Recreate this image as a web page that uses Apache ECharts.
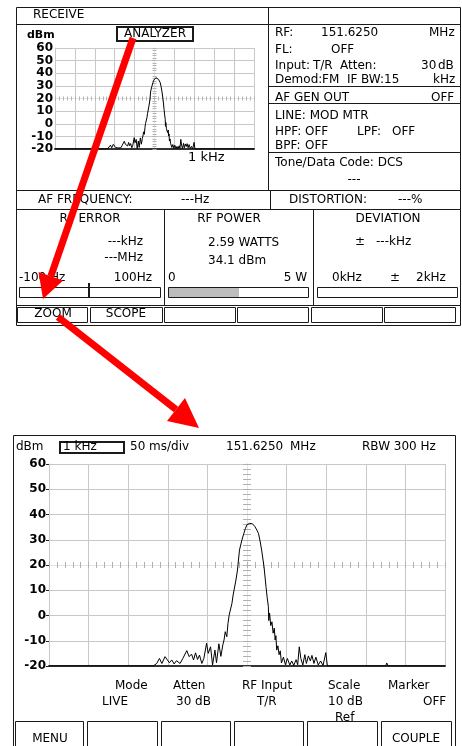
<!DOCTYPE html>
<html><head><meta charset="utf-8">
<script src="https://cdn.jsdelivr.net/npm/echarts@6/dist/echarts.min.js"></script>
<style>html,body{margin:0;padding:0;background:#fff}#c{width:462px;height:746px}</style>
</head><body><div id="c"></div>
<script>
// ---- data ----
const levelTicks = [-20, -10, 0, 10, 20, 30, 40, 50, 60];   // dBm tick labels
const spanHz = [-500, 500];                                 // frequency offset span (1 kHz)
const freqOffsetHz = [-500, -237, -228, -221, -215, -207, -201, -196, -190, -184, -178, -169, -162, -157, -152, -146, -140, -135, -130, -125,
  -120, -114, -109, -102, -98, -92, -87, -81, -77, -71, -66, -61, -58, -55, -51, -48, -45, -41, -38, -35,
  -32, -28, -24, -19, -13.5, -8, -4, 0, 7, 14, 20, 25, 29, 33, 37, 43, 48, 51, 54, 55,
  57, 60, 63, 66, 69, 71, 73, 75, 78, 81, 84, 87, 92, 97, 102, 108, 113, 118, 124, 128,
  132, 136, 141, 146, 150, 155, 160, 164, 169, 174, 180, 186, 192, 199, 203, 350, 353, 356, 500];
const levelDbm = [-20, -20, -19, -17, -19, -16.3, -17.6, -18.7, -17.6, -19.2, -17.9, -19, -17, -17.6, -13.9, -16.3, -15.3, -17.6, -14.8, -17.4,
  -15.7, -19, -17, -11, -15, -12.4, -19.6, -13.7, -18.7, -11.2, -16.2, -11.6, -9.7, -6.4, -8.4, -3.1, 0.2, -0.5, 4.8, 8.1,
  7.4, 14, 18, 25.9, 29.5, 32.5, 34.5, 36, 36.5, 36.3, 35.2, 33.8, 32.5, 29.5, 25.9, 19.3, 11.4, 7, 3.5, -2,
  1, -4, -2.5, -7, -5, -9.7, -8, -13.7, -12, -15.5, -14, -18.8, -16.5, -19.5, -17, -19.6, -18, -19.8, -17.5, -19.5,
  -12.4, -17, -19.6, -15.5, -19, -16, -18, -15.8, -19, -16.5, -19.6, -18, -19.8, -14.7, -20, -20, -18.8, -20, -20];

const trace = freqOffsetHz.map((f, i) => [f, levelDbm[i]]);

// ---- decoration helpers ----
const ink = '#1a1a1a';
const els = [];
function T(s, x, y, o) {
  o = o || {};
  const a = o.align || 'left';
  els.push({type: 'text', z: 50, style: {text: s, x: x, y: y,
    font: (o.bold ? 'bold ' : '') + (o.size || 12) + 'px "DejaVu Sans", sans-serif',
    fill: '#000', align: a, textAlign: a, verticalAlign: 'middle', textVerticalAlign: 'middle'}});
}
function L(x1, y1, x2, y2, o) {
  o = o || {};
  const lw = o.lw || 1, h = (lw % 2 === 1) ? 0.5 : 0;
  els.push({type: 'line', z: o.z || 45, shape: {x1: x1 + h, y1: y1 + h, x2: x2 + h, y2: y2 + h},
    style: {stroke: o.color || ink, lineWidth: lw}});
}
function R(x1, y1, x2, y2, o) {
  o = o || {};
  const lw = o.lw === undefined ? 1 : o.lw, h = (lw % 2 === 1) ? 0.5 : 0;
  els.push({type: 'rect', z: o.z || 45, shape: {x: x1 + h, y: y1 + h, width: x2 - x1, height: y2 - y1},
    style: {fill: o.fill || 'none', stroke: lw ? (o.color || ink) : null, lineWidth: lw}});
}
function arrow(x1, y1, bx, by, head) {
  els.push({type: 'line', z: 100, shape: {x1: x1, y1: y1, x2: bx, y2: by}, style: {stroke: '#ff0000', lineWidth: 7}});
  els.push({type: 'polygon', z: 100, shape: {points: head}, style: {fill: '#ff0000'}});
}

// ---- upper screen ----
R(16, 7, 460, 325);
L(16, 24, 460, 24);
L(268, 7, 268, 190);
L(268, 86, 460, 86);
L(268, 103, 460, 103);
L(268, 152, 460, 152);
L(16, 190, 460, 190);
L(270, 190, 270, 209);
L(16, 209, 460, 209);
L(164, 209, 164, 305);
L(313, 209, 313, 305);
L(16, 305, 460, 305);
[[17, 87], [90, 162], [164, 235], [237, 308], [311, 382], [384, 455]].forEach(b => R(b[0], 307, b[1], 322));

T('RECEIVE', 33, 15);
R(117, 27, 193, 41, {lw: 2});
T('ANALYZER', 155, 34, {align: 'center'});
T('dBm', 27, 35, {bold: true, size: 11});
T('1 kHz', 188, 158, {size: 13});

T('RF:', 275, 33); T('151.6250', 321, 33); T('MHz', 429, 33);
T('FL:', 275, 50); T('OFF', 331, 50);
T('Input:', 275, 66); T('T/R', 313, 66); T('Atten:', 340, 66); T('30', 421, 66); T('dB', 438, 66);
T('Demod:', 275, 80); T('FM', 322, 80); T('IF', 347, 80); T('BW:15', 361, 80); T('kHz', 433, 80);
T('AF GEN OUT', 275, 98); T('OFF', 431, 98);
T('LINE: MOD MTR', 275, 116);
T('HPF:', 275, 132); T('OFF', 305, 132); T('LPF:', 357, 132); T('OFF', 392, 132);
T('BPF:', 275, 146); T('OFF', 305, 146);
T('Tone/Data Code: DCS', 275, 163);
T('---', 354, 180, {align: 'center'});

T('AF FREQUENCY:', 38, 200); T('---Hz', 181, 200); T('DISTORTION:', 289, 200); T('---%', 398, 200);

T('RF ERROR', 90, 219, {align: 'center'});
T('---kHz', 143, 242, {align: 'right'});
T('---MHz', 143, 258, {align: 'right'});
T('-100 Hz', 19, 278); T('100Hz', 152, 278, {align: 'right'});
R(19, 287, 160, 297);
R(88, 283, 90, 297, {lw: 0, fill: ink});

T('RF POWER', 229, 219, {align: 'center'});
T('2.59 WATTS', 208, 243);
T('34.1 dBm', 208, 261);
T('0', 168, 278); T('5 W', 307, 278, {align: 'right'});
R(169, 288, 239, 297, {lw: 0, fill: '#bdbdbd'});
R(168, 287, 308, 297);

T('DEVIATION', 388, 219, {align: 'center'});
T('\u00b1', 355, 242); T('---kHz', 376, 242);
T('0kHz', 332, 278); T('\u00b1', 390, 278); T('2kHz', 416, 278);
R(317, 287, 457, 297);

T('ZOOM', 53, 314, {align: 'center'});
T('SCOPE', 126, 314, {align: 'center'});

// ---- lower screen ----
R(13, 435, 455, 760);
T('dBm', 16, 447);
R(60, 442, 124, 453, {lw: 2});
T('1 kHz', 63, 447);
T('50 ms/div', 130, 447);
T('151.6250', 226, 447); T('MHz', 290, 447);
T('RBW 300 Hz', 362, 447);

T('Mode', 115, 686); T('LIVE', 102, 702);
T('Atten', 173, 686); T('30 dB', 176, 702);
T('RF Input', 242, 686); T('T/R', 257, 702);
T('Scale', 328, 686); T('10 dB', 328, 702); T('Ref', 335, 718);
T('Marker', 388, 686); T('OFF', 423, 702);

[[15, 83], [87, 157], [161, 230], [234, 303], [307, 377], [381, 451]].forEach(b => R(b[0], 721, b[1], 760));
T('MENU', 50, 739, {align: 'center'});
T('COUPLE', 416, 739, {align: 'center'});

// ---- red arrows ----
arrow(133, 38, 50.8, 276.3, [[43, 299], [63.1, 280.5], [38.5, 272.1]]);
arrow(58, 317, 176, 409.5, [[199, 428], [185, 398], [167, 421]]);

// ---- axes ----
const G = '#c8c8c8', N = 'rgba(0,0,0,0)';
const splitX = [G, G, G, G, G, N, G, G, G, G, G];
const splitY = [G, G, G, G, N, G, G, G, G];
function mainX(gi) {
  return {gridIndex: gi, type: 'value', min: spanHz[0], max: spanHz[1], interval: 100,
    axisLine: {onZero: false, lineStyle: {color: '#333', width: 2}}, axisTick: {show: false},
    axisLabel: {show: false}, splitLine: {show: true, lineStyle: {color: splitX, width: 1}}};
}
function centerX(gi, off, inside, len) {
  return {gridIndex: gi, type: 'value', min: spanHz[0], max: spanHz[1], interval: 20, position: 'bottom', offset: off,
    axisLine: {onZero: false, lineStyle: {color: '#e4e4e4'}},
    axisTick: {show: true, inside: inside, length: len, lineStyle: {color: '#b0b0b0'}},
    axisLabel: {show: false}, splitLine: {show: false}};
}
function mainY(gi, fs, tick, margin) {
  return {gridIndex: gi, type: 'value', min: levelTicks[0], max: levelTicks[levelTicks.length - 1], interval: 10,
    axisLine: {onZero: false, lineStyle: {color: G}},
    axisTick: {show: tick > 0, length: tick, lineStyle: {color: '#222'}},
    axisLabel: {color: '#000', fontFamily: 'DejaVu Sans', fontWeight: 'bold', fontSize: fs, margin: margin},
    splitLine: {show: true, lineStyle: {color: splitY, width: 1}}};
}
function centerY(gi, off, inside, len) {
  return {gridIndex: gi, type: 'value', min: levelTicks[0], max: levelTicks[levelTicks.length - 1], interval: 2, position: 'left', offset: off,
    axisLine: {onZero: false, lineStyle: {color: '#e4e4e4'}},
    axisTick: {show: true, inside: inside, length: len, lineStyle: {color: '#b0b0b0'}},
    axisLabel: {show: false}, splitLine: {show: false}};
}

const chart = echarts.init(document.getElementById('c'), null, {renderer: 'canvas'});
chart.setOption({
  animation: false,
  backgroundColor: '#fff',
  grid: [
    {left: 55, top: 48, width: 199, height: 101},
    {left: 49, top: 464, width: 396, height: 202}
  ],
  xAxis: [
    mainX(0), centerX(0, -50.5, false, 2), centerX(0, -50.5, true, 2),
    mainX(1), centerX(1, -101, false, 3), centerX(1, -101, true, 3)
  ],
  yAxis: [
    mainY(0, 12, 0, 2), centerY(0, -99.5, false, 2), centerY(0, -99.5, true, 2),
    mainY(1, 12, 3, 3), centerY(1, -198, false, 4), centerY(1, -198, true, 4)
  ],
  series: [
    {type: 'line', name: 'thumb', xAxisIndex: 0, yAxisIndex: 0, data: trace, showSymbol: false, z: 10,
      lineStyle: {color: '#000', width: 1}},
    {type: 'line', name: 'zoom', xAxisIndex: 3, yAxisIndex: 3, data: trace, showSymbol: false, z: 10,
      lineStyle: {color: '#000', width: 1}}
  ],
  graphic: {elements: els}
});
</script>
</body></html>
